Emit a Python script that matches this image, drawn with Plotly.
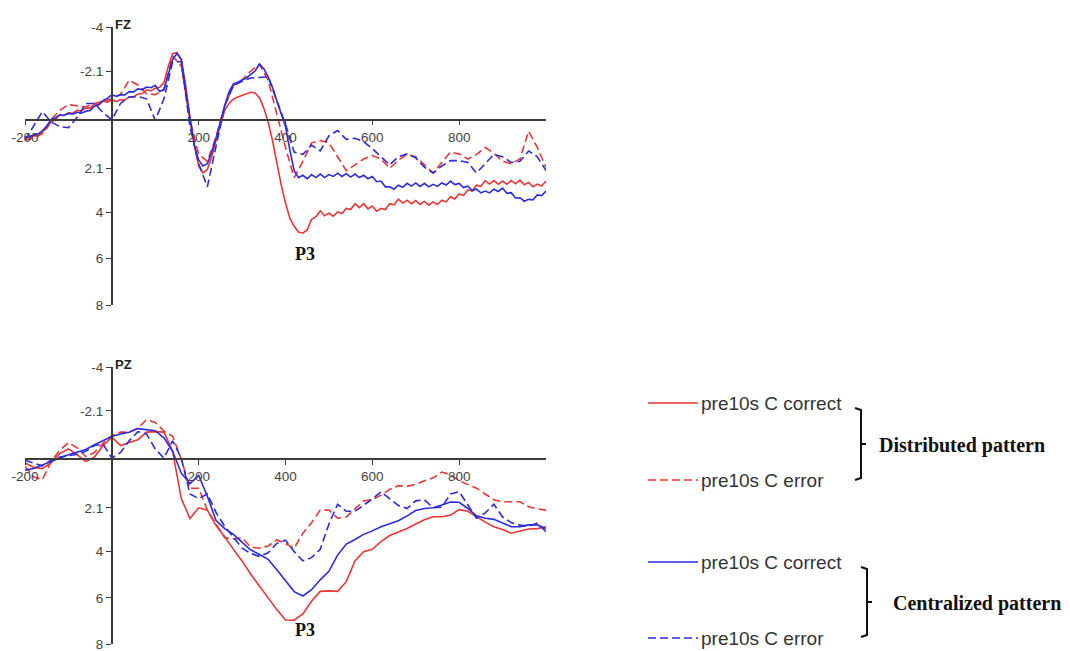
import plotly.graph_objects as go

# ---------------- data ----------------
time_ms = list(range(-200, 1001, 20))        # PZ + FZ dashed series
time_fine_ms = list(range(-200, 1001, 10))   # FZ solid series (ripple visible)

series_names = ["pre10s C correct", "pre10s C error", "pre10s C correct", "pre10s C error"]
group_labels = ["Distributed pattern", "Centralized pattern"]
panel_labels = ["FZ", "PZ"]
peak_label = "P3"

x_tick_vals = [-200, 200, 400, 600, 800]
x_tick_text = ["-200", "200", "400", "600", "800"]
y_tick_vals = [-4, -2.1, 2.1, 4, 6, 8]
y_tick_text = ["-4", "-2.1", "2.1", "4", "6", "8"]

# FZ (10 ms resolution for the solid curves)
fz_red_correct = [0.75, 0.80, 0.70, 0.68, 0.52, 0.38, 0.10, 0.0, -0.21, -0.18,
                  -0.30, -0.28, -0.40, -0.38, -0.50, -0.50, -0.68, -0.66, -0.80, -0.76,
                  -0.86, -0.78, -0.86, -0.85, -0.98, -0.98, -1.11, -1.12, -1.29, -1.24,
                  -1.36, -1.40, -1.6, -2.3, -2.85, -2.9, -2.6, -1.5, 0.0, 1.1,
                  2.0, 2.3, 2.15, 1.6, 0.9, 0.2, -0.4, -0.7, -0.89, -0.98,
                  -1.05, -1.12, -1.18, -1.15, -0.95, -0.5, 0.1, 0.9, 1.91, 2.8,
                  3.6, 4.25, 4.6, 4.85, 4.9, 4.75, 4.3, 4.2, 3.93, 4.15,
                  4.03, 4.17, 3.98, 4.05, 3.83, 3.88, 3.63, 3.8, 3.63, 3.85,
                  3.73, 3.95, 3.83, 3.88, 3.63, 3.68, 3.43, 3.6, 3.48, 3.63,
                  3.49, 3.66, 3.53, 3.69, 3.55, 3.66, 3.48, 3.55, 3.33, 3.42,
                  3.21, 3.27, 3.03, 3.08, 2.83, 2.88, 2.63, 2.78, 2.63, 2.79,
                  2.65, 2.79, 2.63, 2.77, 2.61, 2.81, 2.71, 2.9, 2.78, 2.86,
                  2.65]
fz_red_error = [0.89, 0.8, 0.6, 0.0, -0.4, -0.65, -0.6, -0.55, -0.7, -0.8,
                -0.9, -1.1, -1.7, -1.5, -1.12, -1.08, -1.3, -2.75, -2.3, 0.0,
                1.5, 1.8, 0.75, -0.6, -1.47, -1.72, -2.1, -2.4, -1.7, -0.24,
                1.2, 2.5, 1.8, 1.0, 0.9, 1.0, 1.6, 2.2, 1.95, 1.7,
                1.55, 1.7, 2.1, 1.75, 1.5, 1.6, 1.95, 2.3, 1.85, 1.4,
                1.48, 1.7, 1.5, 1.2, 1.45, 1.8, 1.9, 1.7, 0.5, 1.2, 2.05]
fz_blue_correct = [0.75, 0.74, 0.66, 0.62, 0.48, 0.28, 0.0, -0.08, -0.21, -0.18,
                   -0.27, -0.24, -0.32, -0.28, -0.36, -0.40, -0.58, -0.64, -0.83, -0.92,
                   -1.08, -1.0, -1.08, -1.07, -1.21, -1.2, -1.33, -1.3, -1.41, -1.38,
                   -1.48, -1.22, -1.3, -1.9, -2.6, -2.85, -2.6, -1.3, 0.0, 1.1,
                   1.75, 2.0, 1.9, 1.4, 0.8, 0.05, -0.6, -1.2, -1.54, -1.62,
                   -1.72, -1.8, -1.95, -2.1, -2.4, -2.2, -1.85, -1.4, -0.82, -0.3,
                   0.3, 1.3, 2.2, 2.5, 2.4, 2.55, 2.37, 2.5, 2.35, 2.5,
                   2.37, 2.45, 2.31, 2.45, 2.33, 2.48, 2.35, 2.5, 2.4, 2.55,
                   2.45, 2.68, 2.65, 2.9, 2.9, 3.0, 2.83, 2.92, 2.75, 2.87,
                   2.73, 2.88, 2.75, 2.9, 2.79, 2.88, 2.73, 2.82, 2.65, 2.8,
                   2.75, 2.93, 2.87, 3.05, 3.0, 3.16, 3.08, 3.16, 3.0, 3.1,
                   2.95, 3.18, 3.15, 3.38, 3.37, 3.52, 3.44, 3.46, 3.25, 3.28,
                   3.08]
fz_blue_error = [0.89, 0.3, -0.35, 0.1, 0.3, 0.35, -0.1, -0.7, -0.7, -0.3,
                 0.0, -0.7, -0.98, -1.0, -0.9, 0.03, -0.9, -2.5, -2.5, 0.3,
                 1.9, 2.9, 1.1, -0.6, -1.47, -1.66, -1.8, -1.82, -1.85, -0.82,
                 0.2, 1.4, 1.5, 1.1, 1.35, 0.7, 0.47, 0.85, 0.8, 0.95,
                 1.25, 1.6, 1.95, 1.6, 1.48, 1.65, 2.05, 2.3, 2.0, 1.77,
                 1.77, 1.85, 2.3, 1.9, 1.5, 1.6, 1.85, 1.8, 1.35, 1.6, 2.2]

# PZ
pz_red_correct = [0.15, 0.35, 0.4, 0.15, -0.25, -0.45, -0.2, 0.1, -0.1, -0.6,
                  -0.96, -0.6, -0.73, -0.85, -1.18, -1.2, -1.18, -0.35, 1.7, 2.56,
                  2.1, 2.2, 2.87, 3.35, 3.9, 4.4, 4.98, 5.5, 5.98, 6.51,
                  6.96, 6.97, 6.7, 6.15, 5.72, 5.7, 5.72, 5.3, 4.4, 4.0,
                  3.9, 3.56, 3.3, 3.15, 3.0, 2.8, 2.62, 2.49, 2.49, 2.42,
                  2.18, 2.25, 2.5, 2.72, 2.92, 3.04, 3.2, 3.12, 3.02, 3.0, 2.92]
pz_red_error = [0.3, 0.76, 0.88, 0.1, -0.39, -0.72, -0.5, -0.12, -0.3, -0.7,
                -1.03, -1.18, -1.18, -1.36, -1.72, -1.6, -1.22, -1.0, 0.0, 1.25,
                1.25, 2.2, 2.8, 3.4, 3.45, 3.4, 3.8, 3.85, 3.75, 3.49,
                3.65, 3.85, 3.2, 2.75, 2.2, 2.2, 2.55, 2.5, 2.15, 1.8,
                1.75, 1.55, 1.3, 1.14, 1.17, 1.08, 0.93, 0.8, 0.55, 0.67,
                0.93, 1.08, 1.25, 1.5, 1.75, 1.84, 1.84, 1.84, 2.05, 2.15, 2.2]
pz_blue_correct = [0.47, 0.4, 0.25, 0.08, -0.06, -0.2, -0.3, -0.43, -0.63, -0.82,
                   -0.99, -1.1, -1.17, -1.33, -1.3, -1.24, -0.93, -0.35, 0.6, 1.05,
                   0.7, 1.6, 2.65, 3.0, 3.25, 3.6, 3.93, 4.12, 4.33, 4.78,
                   5.25, 5.73, 5.92, 5.65, 5.22, 4.85, 4.15, 3.67, 3.47, 3.25,
                   3.1, 2.92, 2.79, 2.66, 2.45, 2.22, 2.13, 2.1, 1.98, 1.85,
                   1.86, 2.13, 2.45, 2.55, 2.6, 2.75, 2.92, 2.92, 2.84, 2.84, 3.0]
pz_blue_error = [0.04, 0.15, 0.28, 0.04, -0.1, -0.16, -0.22, -0.35, -0.6, -0.65,
                 -0.05, -0.3, -0.8, -1.2, -1.1, -0.45, -0.05, -0.8, -0.05, 1.5,
                 1.7, 1.5, 2.3, 2.9, 3.4, 3.85, 4.08, 4.2, 4.05, 3.64,
                 3.5, 4.0, 4.4, 4.26, 3.9, 2.8, 1.95, 2.25, 2.25, 2.0,
                 1.72, 1.41, 1.72, 2.0, 2.13, 1.8, 1.75, 2.1, 2.07, 1.5,
                 1.4, 1.95, 2.55, 2.32, 1.95, 2.5, 2.74, 2.85, 2.9, 2.77, 3.13]

# ---------------- styling ----------------
W, H = 1070, 651
RED = "#ee3535"
BLUE = "#2b2be0"
DASH = "8px,4px"
AXIS_COL = "#3c3c3c"
TICK_FONT = dict(family="Arial, Liberation Sans, sans-serif", size=13.5, color="#444444")

def px_x(p):
    return p / W

def px_y(p):
    return 1 - p / H

X_RANGE = [-200, 1000]
Y_RANGE = [8, -4]  # reversed: negative up
x_dom = [px_x(25), px_x(546)]
y_doms = [[px_y(305), px_y(27)], [px_y(644), px_y(367)]]

def x_frac(v):
    return x_dom[0] + (v - X_RANGE[0]) / (X_RANGE[1] - X_RANGE[0]) * (x_dom[1] - x_dom[0])

def y_frac(v, dom):
    return dom[0] + (Y_RANGE[0] - v) / (Y_RANGE[0] - Y_RANGE[1]) * (dom[1] - dom[0])

panels = [
    [(time_fine_ms, fz_red_correct), (time_ms, fz_red_error),
     (time_fine_ms, fz_blue_correct), (time_ms, fz_blue_error)],
    [(time_ms, pz_red_correct), (time_ms, pz_red_error),
     (time_ms, pz_blue_correct), (time_ms, pz_blue_error)],
]
colors = [RED, RED, BLUE, BLUE]
dashes = ["solid", DASH, "solid", DASH]

fig = go.Figure()
for pi, series in enumerate(panels):
    xa = "x" if pi == 0 else "x2"
    ya = "y" if pi == 0 else "y2"
    for si, (tx, vals) in enumerate(series):
        fig.add_trace(go.Scatter(
            x=tx, y=vals, mode="lines", name=series_names[si],
            line=dict(color=colors[si], width=1.6, dash=dashes[si]),
            xaxis=xa, yaxis=ya, showlegend=False, hoverinfo="skip"))

layout = dict(
    width=W, height=H,
    margin=dict(l=0, r=0, t=0, b=0),
    paper_bgcolor="white", plot_bgcolor="white",
    showlegend=False,
)
for pi in range(2):
    suf = "" if pi == 0 else "2"
    dom = y_doms[pi]
    layout["xaxis" + suf] = dict(
        domain=x_dom, range=X_RANGE, anchor="free", position=y_frac(0, dom),
        showline=True, linecolor=AXIS_COL, linewidth=1.5,
        ticks="outside", ticklen=5, tickcolor=AXIS_COL, tickwidth=1.3,
        tickvals=x_tick_vals, ticktext=x_tick_text, tickfont=TICK_FONT,
        ticklabeloverflow="allow",
        showgrid=False, zeroline=False, automargin=False, fixedrange=True)
    layout["yaxis" + suf] = dict(
        domain=dom, range=Y_RANGE, anchor="free", position=x_frac(0),
        showline=True, linecolor=AXIS_COL, linewidth=1.5,
        ticks="outside", ticklen=5, tickcolor=AXIS_COL, tickwidth=1.3,
        tickvals=y_tick_vals, ticktext=y_tick_text, tickfont=TICK_FONT,
        ticklabeloverflow="allow",
        showgrid=False, zeroline=False, automargin=False, fixedrange=True)
fig.update_layout(**layout)

annotations = []
shapes = []
# panel labels (FZ / PZ)
for pi, lab in enumerate(panel_labels):
    annotations.append(dict(
        x=x_frac(0), y=y_doms[pi][1], xref="paper", yref="paper",
        text="<b>" + lab + "</b>", showarrow=False, xanchor="left", yanchor="middle",
        xshift=1, yshift=3,
        font=dict(family="Arial, Liberation Sans, sans-serif", size=13, color="#222222")))
# P3 labels
p3_pos = [(445, 5.8), (445, 7.4)]
for pi, (xv, yv) in enumerate(p3_pos):
    annotations.append(dict(
        x=x_frac(xv), y=y_frac(yv, y_doms[pi]), xref="paper", yref="paper",
        text="<b>" + peak_label + "</b>", showarrow=False, xanchor="center", yanchor="middle",
        font=dict(family="Times New Roman, Liberation Serif, serif", size=18, color="#111111")))

# manual legend
legend_rows = [403, 480, 562, 638]
for i, row in enumerate(legend_rows):
    shapes.append(dict(type="line", xref="paper", yref="paper",
                       x0=px_x(648), x1=px_x(698), y0=px_y(row), y1=px_y(row),
                       line=dict(color=colors[i], width=1.6, dash=dashes[i])))
    annotations.append(dict(
        x=px_x(699), y=px_y(row), xref="paper", yref="paper", text=series_names[i],
        showarrow=False, xanchor="left", yanchor="middle",
        font=dict(family="Arial, Liberation Sans, sans-serif", size=19, color="#333333")))

# brackets
brackets = [
    dict(xv=861, xt=855, xn=866, y0=408, y1=480, label=group_labels[0], lx=877),
    dict(xv=867, xt=861, xn=872, y0=567, y1=637, label=group_labels[1], lx=891),
]
for b in brackets:
    ym = (b["y0"] + b["y1"]) / 2
    path = (f"M {px_x(b['xt'])},{px_y(b['y0'])} L {px_x(b['xv'])},{px_y(b['y0'] + 2)} "
            f"L {px_x(b['xv'])},{px_y(b['y1'] - 2)} L {px_x(b['xt'])},{px_y(b['y1'])} "
            f"M {px_x(b['xv'])},{px_y(ym)} L {px_x(b['xn'])},{px_y(ym)}")
    shapes.append(dict(type="path", xref="paper", yref="paper", path=path,
                       line=dict(color="#111111", width=2)))
    annotations.append(dict(
        x=px_x(b["lx"]), y=px_y(ym + 1), xref="paper", yref="paper",
        text="<b>" + b["label"] + "</b>", showarrow=False, xanchor="left", yanchor="middle",
        font=dict(family="Times New Roman, Liberation Serif, serif", size=20, color="#111111")))

fig.update_layout(annotations=annotations, shapes=shapes)
fig.write_html("out.html",
               config={"displayModeBar": False},
               post_script="document.body.style.margin='0';document.body.style.overflow='hidden';")
